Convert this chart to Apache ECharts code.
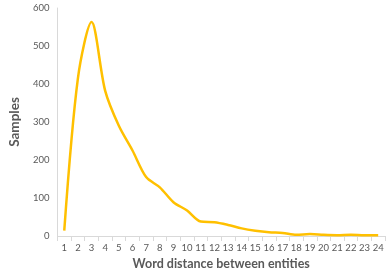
<!DOCTYPE html>
<html><head><meta charset="utf-8">
<script src="https://cdn.jsdelivr.net/npm/echarts@6/dist/echarts.min.js"></script>
<style>html,body{margin:0;padding:0;background:#fff}#c{width:392px;height:277px}</style>
</head><body><div id="c"></div>
<script>
const categories = ['1','2','3','4','5','6','7','8','9','10','11','12','13','14','15','16','17','18','19','20','21','22','23','24'];
const samples = [14, 415, 563, 382, 290, 225, 155, 128, 89, 67, 38, 36, 29, 20, 14, 10, 8, 3, 5, 3, 2, 3, 2, 2];
const yTicks = {min: 0, max: 600, interval: 100};
const xTitle = 'Word distance between entities';
const yTitle = 'Samples';

const chart = echarts.init(document.getElementById('c'));
chart.setOption({
  animation: false,
  grid: {left: 49, right: 7, top: 8, bottom: 41},
  xAxis: {
    type: 'category', data: categories, boundaryGap: true,
    name: xTitle, nameLocation: 'middle', nameGap: 21,
    nameTextStyle: {color: '#595959', fontSize: 12.5, fontWeight: 'bold', fontFamily: 'Lato'},
    axisLine: {lineStyle: {color: '#d9d9d9'}},
    axisTick: {show: true, alignWithLabel: false, length: 5, lineStyle: {color: '#d9d9d9'}},
    axisLabel: {color: '#595959', fontSize: 9.5, fontFamily: 'Lato', margin: 7, interval: 0}
  },
  yAxis: {
    type: 'value', min: yTicks.min, max: yTicks.max, interval: yTicks.interval,
    name: yTitle, nameLocation: 'middle', nameGap: 25, nameRotate: 90,
    nameTextStyle: {color: '#595959', fontSize: 13.5, fontWeight: 'bold', fontFamily: 'Lato'},
    axisLine: {show: true, lineStyle: {color: '#d9d9d9'}},
    axisTick: {show: false},
    splitLine: {show: false},
    axisLabel: {color: '#595959', fontSize: 9.5, fontFamily: 'Lato', margin: 8}
  },
  series: [{
    type: 'line', data: samples, smooth: 0.3, symbol: 'none',
    lineStyle: {color: '#FFC000', width: 2.5}
  }]
});
</script></body></html>
